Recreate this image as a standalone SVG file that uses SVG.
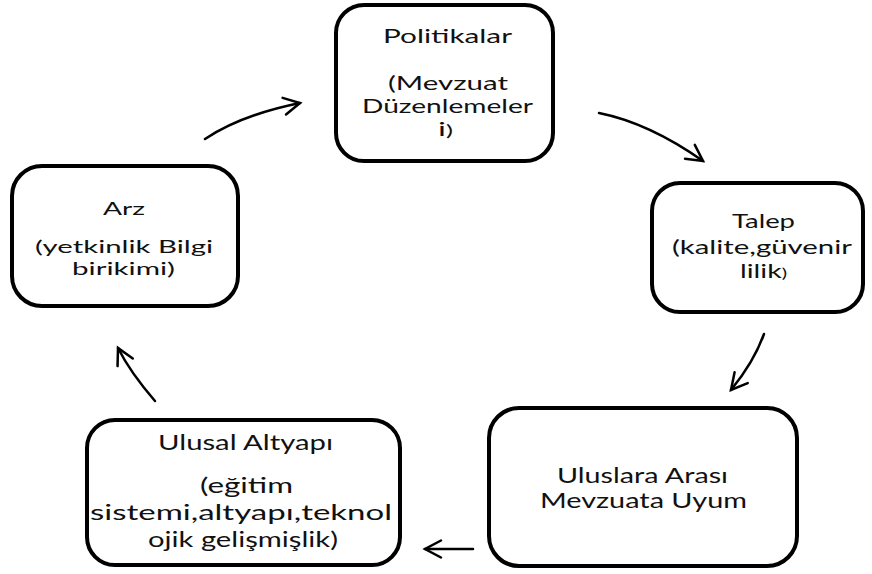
<svg xmlns="http://www.w3.org/2000/svg" width="872" height="574" viewBox="0 0 872 574">
<defs>
<style>
.box{fill:#fff;stroke:#000;stroke-width:4}
.t{font-family:Lato,"Open Sans","Liberation Sans",sans-serif;fill:#111}
.c{fill:none;stroke:#000;stroke-width:2.5;stroke-linecap:round}
</style>
<marker id="ah" viewBox="-20 -12 24 24" markerWidth="24" markerHeight="24" refX="0" refY="0" orient="auto" markerUnits="userSpaceOnUse" overflow="visible">
<path d="M-16,-8.5 L0,0 L-16,8.5" fill="none" stroke="#000" stroke-width="2.5" stroke-linecap="round"/>
</marker>
</defs>
<rect width="872" height="574" fill="#fff"/>
<g id="connectors">
<path class="c" d="M205,139 Q241,115 300,103" marker-end="url(#ah)"/>
<path class="c" d="M599,113 Q649,123 703,161" marker-end="url(#ah)"/>
<path class="c" d="M764,334 Q754,362 731,390" marker-end="url(#ah)"/>
<path class="c" d="M473,549 L425,549" marker-end="url(#ah)"/>
<path class="c" d="M155,401 Q130,372 118,348" marker-end="url(#ah)"/>
</g>
<g id="politikalar">
<rect class="box" x="336" y="5" width="217" height="156" rx="28"/>
<g class="t" font-size="19">
<text x="383" y="43" textLength="129" lengthAdjust="spacingAndGlyphs">Politikalar</text>
<text x="388" y="90" textLength="120" lengthAdjust="spacingAndGlyphs">(Mevzuat</text>
<text x="362" y="113" textLength="171" lengthAdjust="spacingAndGlyphs">Düzenlemeler</text>
<text x="438" y="136" textLength="15" lengthAdjust="spacingAndGlyphs">i<tspan font-size="15">)</tspan></text>
</g>
</g>
<g id="talep">
<rect class="box" x="652" y="183" width="211" height="129" rx="28"/>
<g class="t" font-size="20">
<text x="732" y="228" textLength="63" lengthAdjust="spacingAndGlyphs">Talep</text>
<text x="672" y="254" textLength="180" lengthAdjust="spacingAndGlyphs">(kalite,güvenir</text>
<text x="740" y="278" textLength="47" lengthAdjust="spacingAndGlyphs">lilik<tspan font-size="14">)</tspan></text>
</g>
</g>
<g id="arz">
<rect class="box" x="12" y="166" width="226" height="140" rx="30"/>
<g class="t" font-size="18">
<text x="103" y="215" textLength="42" lengthAdjust="spacingAndGlyphs">Arz</text>
<text x="35" y="253" textLength="178" lengthAdjust="spacingAndGlyphs">(yetkinlik Bilgi</text>
<text x="72" y="275" textLength="103" lengthAdjust="spacingAndGlyphs">birikimi)</text>
</g>
</g>
<g id="ulusal">
<rect class="box" x="87" y="420" width="313" height="145" rx="28"/>
<g class="t" font-size="21.5">
<text x="158" y="450" textLength="175" lengthAdjust="spacingAndGlyphs">Ulusal Altyapı</text>
<text x="200" y="493" textLength="93" lengthAdjust="spacingAndGlyphs">(eğitim</text>
<text x="90" y="520" textLength="302" lengthAdjust="spacingAndGlyphs">sistemi,altyapı,teknol</text>
<text x="148" y="547" textLength="190" lengthAdjust="spacingAndGlyphs">ojik gelişmişlik)</text>
</g>
</g>
<g id="uluslara">
<rect class="box" x="489" y="408" width="308" height="158" rx="30"/>
<g class="t" font-size="20.5">
<text x="557" y="483" textLength="171" lengthAdjust="spacingAndGlyphs">Uluslara Arası</text>
<text x="540" y="508" textLength="207" lengthAdjust="spacingAndGlyphs">Mevzuata Uyum</text>
</g>
</g>
</svg>
